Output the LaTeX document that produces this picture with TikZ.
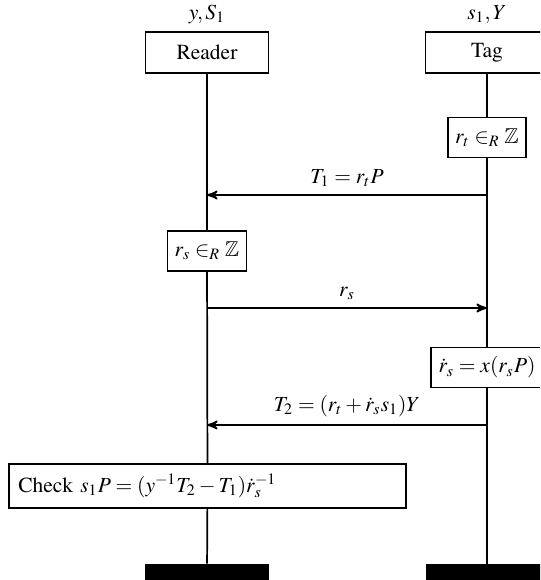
\documentclass[tikz,border=0pt]{standalone}
\usepackage[T1]{fontenc}
\usepackage{mathptmx}
\usepackage{amsmath}
\usepackage{amssymb}
\usetikzlibrary{positioning,arrows}
\tikzset{
  party/.style={draw, thick, minimum width=57.2pt, minimum height=19.1pt},
  actbox/.style={draw, thick, fill=white, minimum height=18.5pt},
  lifeend/.style={fill=black, minimum width=57.2pt, minimum height=9.3pt, inner sep=0pt},
}
\begin{document}
\begin{tikzpicture}[x=0.465pt, y=-0.465pt, >=stealth']
\clip (0,0) rectangle (540,580);

% the two parties
\node (reader) at (207,52.5) [party] {Reader};
\node (tag) at (487,52.5) [party] {Tag};
\node (reader_keys) at (reader.north) [above=0pt] {$y,S_1$};
\node (tag_keys) at (tag.north) [above=0pt] {$s_1,Y$};

% local steps
\node (tag_rt) at (487,137.5) [actbox] {$r_t \in_R \mathbb{Z}$};
\node (reader_rs) at (207,251) [actbox] {$r_s \in_R \mathbb{Z}$};
\node (tag_dot) at (487,367.5) [actbox] {$\dot{r}_s = x(r_sP)$};
\node (check) at (207.5,486) [actbox, text width=176pt, align=left, inner sep=4.2pt, minimum height=20.5pt] {Check $s_1P = (y^{-1}T_2 - T_1)\dot{r}_s^{-1}$};

\node (reader_end) at (207,574) [lifeend] {};
\node (tag_end) at (487,574) [lifeend] {};

% lifelines
\draw [thick] (reader) -- (reader_rs) -- (check) -- (reader_end);
\draw [thick] (tag) -- (tag_rt) -- (tag_dot) -- (tag_end);

% messages
\coordinate (t1_tag) at (487,195);
\coordinate (t1_reader) at (207,195);
\coordinate (rs_reader) at (207,308);
\coordinate (rs_tag) at (487,308);
\coordinate (t2_tag) at (487,425);
\coordinate (t2_reader) at (207,425);

\draw [->, thick] (t1_tag) -- node[above] {$T_1 = r_tP$} (t1_reader);
\draw [->, thick] (rs_reader) -- node[above] {$r_s$} (rs_tag);
\draw [->, thick] (t2_tag) -- node[above] {$T_2 = (r_t + \dot{r}_s s_1)Y$} (t2_reader);

\end{tikzpicture}
\end{document}
